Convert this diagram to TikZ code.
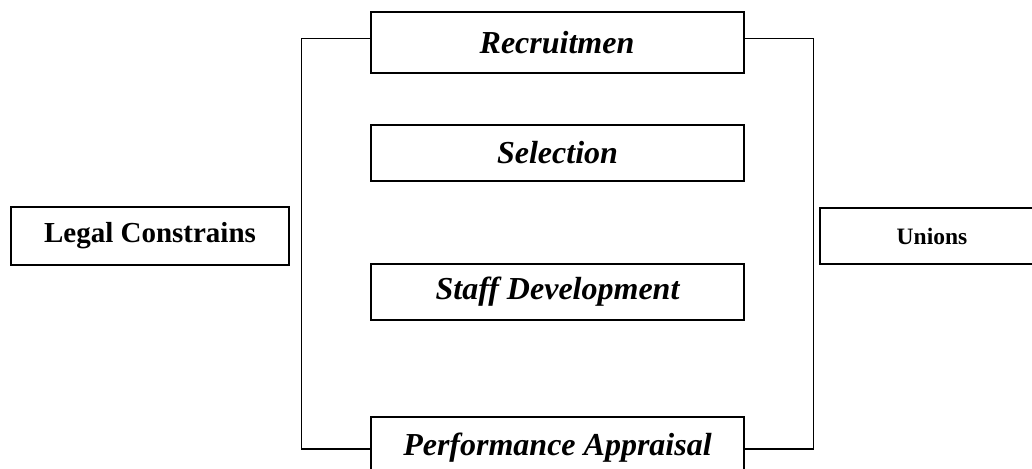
\documentclass[tikz,border=0pt]{standalone}
\usepackage{fontspec}
\setmainfont{Liberation Serif}
\begin{document}
\begin{tikzpicture}[x=1pt,y=-1pt,
  stage/.style={draw,line width=2pt,minimum width=373pt,inner sep=0pt,
    font=\fontsize{32}{38}\selectfont\bfseries\itshape},
  side/.style={draw,line width=1.8pt,inner sep=0pt,font=\bfseries},
  link/.style={line width=1.8pt}]
\useasboundingbox (0,0) rectangle (1032,468);
\clip (0,0) rectangle (1032,468);
% HR functions in the middle column
\node[stage,minimum height=61pt] (rec) at (557,42.5) {Recruitmen};
\node[stage,minimum height=56pt] (sel) at (557.5,153) {Selection};
\node[stage,minimum height=56pt] (dev) at (557.5,292) {Staff Development};
\node[stage,minimum height=61pt] (perf) at (557.5,447.5) {Performance Appraisal};
% external influences
\node[side,minimum width=278pt,minimum height=58pt,
  font=\fontsize{29}{34}\selectfont\bfseries] (legal) at (150,236) {Legal Constrains};
\node[side,minimum width=224pt,minimum height=56pt,
  font=\fontsize{23.5}{28}\selectfont\bfseries] (unions) at (932,236) {Unions};
% brackets joining the first and last function
\draw[link] ([yshift=4pt]rec.west) -- ++(-68,0) |- ([yshift=-1.5pt]perf.west);
\draw[link] ([yshift=4pt]rec.east) -- ++(69,0) |- ([yshift=-1.5pt]perf.east);
\end{tikzpicture}
\end{document}
